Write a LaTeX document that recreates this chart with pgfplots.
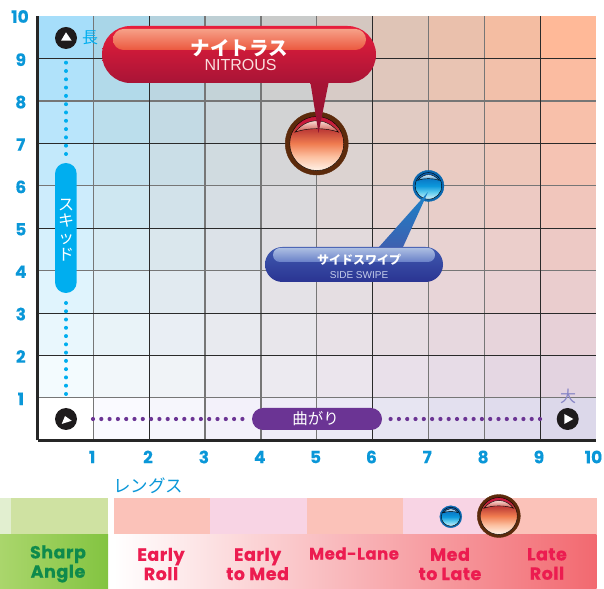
\documentclass[border=0pt]{standalone}
\usepackage{fontspec}
\usepackage{pgfplots}
\pgfplotsset{compat=1.18}
\setmainfont{Poppins}
\newfontfamily\panel{Poppins}[BoldFeatures={FakeBold=0.5,LetterSpace=3}]
\newfontfamily\tickf{Poppins}[BoldFeatures={FakeBold=0.3}]
\newfontfamily\cjk{Noto Sans CJK JP}
\newfontfamily\thin{Liberation Sans}
\definecolor{tickc}{HTML}{0A97D8}
\definecolor{cyanb}{HTML}{00AEEF}
\definecolor{purp}{HTML}{6B3494}
\definecolor{gridd}{HTML}{2A2A2A}
\definecolor{gridg}{HTML}{767676}
\definecolor{axisk}{HTML}{262626}
\definecolor{labr}{HTML}{EC1C50}
\definecolor{labg}{HTML}{0E8A4C}
\definecolor{bandr}{HTML}{FBC2B9}
\definecolor{bandp}{HTML}{F8D4E4}
\definecolor{ringr}{RGB}{92,42,11}
\definecolor{ringb}{RGB}{10,104,176}
\definecolor{gla}{RGB}{226,239,208}
\definecolor{glb}{RGB}{207,226,162}
\definecolor{gpa}{RGB}{170,214,108}
\definecolor{gpb}{RGB}{131,196,65}
\definecolor{rpb}{RGB}{242,105,112}
\definecolor{pa}{RGB}{168,20,52}
\definecolor{pb}{RGB}{140,16,48}
\definecolor{pia}{RGB}{232,30,60}
\definecolor{pib}{RGB}{216,27,56}
\definecolor{pic}{RGB}{168,20,54}
\definecolor{hia}{RGB}{246,160,136}
\definecolor{hib}{RGB}{236,88,62}
\definecolor{nit}{RGB}{250,222,222}
\definecolor{sa}{RGB}{26,130,200}
\definecolor{sb}{RGB}{62,96,176}
\definecolor{sc}{RGB}{64,90,176}
\definecolor{sd}{RGB}{42,52,146}
\definecolor{se}{RGB}{172,190,226}
\definecolor{sf}{RGB}{104,128,200}
\definecolor{sg}{RGB}{196,204,234}
\definecolor{blk}{RGB}{30,27,28}
\definecolor{dai}{RGB}{136,134,198}
\definecolor{r1}{HTML}{FFF2E8}
\definecolor{r2}{HTML}{FCC0A0}
\definecolor{r3}{HTML}{F07C50}
\definecolor{r4}{HTML}{C04038}
\definecolor{r5}{HTML}{C8183C}
\definecolor{rh1}{HTML}{FADCD4}
\definecolor{rh2}{HTML}{C85048}
\definecolor{b1}{HTML}{D4F1FB}
\definecolor{b2}{HTML}{60CCEE}
\definecolor{b3}{HTML}{0C98DC}
\definecolor{b4}{HTML}{0A7CC8}
\definecolor{b5}{HTML}{0C5FB0}
\definecolor{bh1}{HTML}{D4EAF6}
\definecolor{bh2}{HTML}{2A88CC}
\pgfdeclareverticalshading{ballrs}{100bp}{color(0bp)=(r1);color(25bp)=(r1);color(38bp)=(r2);color(50bp)=(r3);color(62bp)=(r4);color(70bp)=(r5);color(100bp)=(r5)}
\pgfdeclareverticalshading{ballbs}{100bp}{color(0bp)=(b1);color(25bp)=(b1);color(38bp)=(b2);color(50bp)=(b3);color(62bp)=(b4);color(70bp)=(b5);color(100bp)=(b5)}
\newcommand\crescent[2]{\shade[top color=#1,bottom color=#2] (-.69,.36) .. controls (-.5,.6) and (-.25,.72) .. (0,.72) .. controls (.25,.72) and (.5,.6) .. (.69,.36) .. controls (.45,.44) and (.25,.47) .. (0,.47) .. controls (-.25,.47) and (-.45,.44) .. (-.69,.36) -- cycle;}
\pgfdeclareplotmark{ballred}{%
  \begin{scope}[x=\pgfplotmarksize,y=\pgfplotmarksize]
    \fill[ringr] (0,0) circle (1);
    \shade[shading=ballrs] (0,0) circle (.857);
    \crescent{rh1}{rh2}
  \end{scope}}
\pgfdeclareplotmark{ballblue}{%
  \begin{scope}[x=\pgfplotmarksize,y=\pgfplotmarksize]
    \fill[ringb] (0,0) circle (1);
    \shade[shading=ballbs] (0,0) circle (.857);
    \crescent{bh1}{bh2}
  \end{scope}}
\begin{document}
\begin{tikzpicture}[px/.style={x=1pt,y=-1pt,shift={(-37.5pt,440.3pt)}}]
\begin{scope}[px]
\useasboundingbox (0,0) rectangle (604,588);
% background cells
\foreach \i in {1,...,9}{\foreach \j in {1,...,9}{
  \pgfmathsetmacro\s{(\i-1)/8}\pgfmathsetmacro\t{(\j-1)/8}
  \pgfmathsetmacro\R{((1-\s)*(1-\t)*242+\s*(1-\t)*227+(1-\s)*\t*169+\s*\t*255)/255}
  \pgfmathsetmacro\G{((1-\s)*(1-\t)*247+\s*(1-\t)*211+(1-\s)*\t*214+\s*\t*185)/255}
  \pgfmathsetmacro\B{((1-\s)*(1-\t)*250+\s*(1-\t)*224+(1-\s)*\t*232+\s*\t*152)/255}
  \definecolor{cc}{rgb}{\R,\G,\B}
  \fill[cc] ({37.5+\i*55.85},{440.3-\j*42.4}) rectangle ({37.5+(\i+1)*55.85},{440.3-(\j+1)*42.4});
}}
\foreach \j in {1,...,9}{
  \pgfmathsetmacro\t{(\j-1)/8}
  \pgfmathsetmacro\R{((1-\t)*243+\t*166)/255}
  \pgfmathsetmacro\G{((1-\t)*251+\t*222)/255}
  \pgfmathsetmacro\B{((1-\t)*254+\t*250)/255}
  \definecolor{cc}{rgb}{\R,\G,\B}
  \fill[cc] (37.5,{440.3-\j*42.4}) rectangle (93.35,{440.3-(\j+1)*42.4});
}
\foreach \i in {1,...,9}{
  \pgfmathsetmacro\s{(\i-1)/8}
  \pgfmathsetmacro\R{((1-\s)*250+\s*220)/255}
  \pgfmathsetmacro\G{((1-\s)*250+\s*216)/255}
  \pgfmathsetmacro\B{((1-\s)*255+\s*234)/255}
  \definecolor{cc}{rgb}{\R,\G,\B}
  \fill[cc] ({37.5+\i*55.85},440.3) rectangle ({37.5+(\i+1)*55.85},397.9);
}
% lower panel
\fill[gla] (0,498) rectangle (11,534);
\fill[glb] (11,498) rectangle (108,534);
\shade[left color=gpa,right color=gpb] (0,534) rectangle (108,588);
\fill[bandr] (114,498) rectangle (210,534);
\fill[bandp] (210,498) rectangle (307,534);
\fill[bandr] (307,498) rectangle (403,534);
\fill[bandp] (403,498) rectangle (500,534);
\fill[bandr] (500,498) rectangle (596.5,534);
\shade[left color=white,right color=rpb] (114,534) rectangle (596.5,588);
\end{scope}

\begin{axis}[
  at={(0pt,0pt)},anchor=south west,scale only axis,
  width=558.5pt,height=424pt,
  xmin=0,xmax=10,ymin=0,ymax=10,
  axis x line*=bottom,axis y line*=left,
  axis line style={-,color=axisk,line width=3.3pt},
  clip=false,
  major tick length=0pt,
  tick style={draw=none},
  xtick={1,3,4,5,7,8},extra x ticks={2,6,9},
  ytick={1,4,6,8},extra y ticks={2,3,5,7,9},
  grid=major,
  major grid style={color=gridg,line width=1.2pt},
  extra tick style={grid=major,major grid style={color=gridd,line width=.75pt}},
  /pgf/number format/assume math mode=true,
  xticklabel style={anchor=center,xshift=-1.2pt,yshift=-16.7pt,font=\tickf\bfseries\fontsize{17}{17}\selectfont,text=tickc,inner sep=0pt},
  yticklabel style={anchor=center,xshift=-16.7pt,yshift=-1pt,font=\tickf\bfseries\fontsize{17}{17}\selectfont,text=tickc,inner sep=0pt},
]
\addplot[only marks,mark=ballred,mark size=31.5pt] coordinates {(5.0,7.0)};
\addplot[only marks,mark=ballblue,mark size=15.5pt] coordinates {(7.0,6.0)};
\end{axis}

\begin{axis}[
  at={(0pt,-93.7pt)},anchor=south west,scale only axis,
  width=558.5pt,height=36pt,
  xmin=0,xmax=10,ymin=0,ymax=1,
  hide axis,clip=false,
]
\addplot[only marks,mark=ballblue,mark size=11pt] coordinates {(7.40,0.48)};
\addplot[only marks,mark=ballred,mark size=21.5pt] coordinates {(8.26,0.5)};
\end{axis}

\begin{scope}[px]
\node[font=\tickf\bfseries\fontsize{17}{17}\selectfont,text=tickc,inner sep=0pt] at (593.5,457) {10};
\node[font=\tickf\bfseries\fontsize{17}{17}\selectfont,text=tickc,inner sep=0pt] at (20,16.5) {10};
% Nitrous callout
\shade[top color=pa,bottom color=pb] (310.5,83) -- (328.5,83) -- (318.5,133) -- cycle;
\shade[top color=pia,middle color=pib,bottom color=pic,rounded corners=28.5pt] (102,26) rectangle (376,83);
\shade[top color=hia,bottom color=hib,rounded corners=10.5pt] (113,29) rectangle (366,50);
\node[font=\cjk\bfseries\fontsize{19.5}{20}\selectfont,text=white,inner sep=0pt] at (239.5,48.5) {ナイトラス};
\node[font=\thin\fontsize{16}{17}\selectfont,text=nit,inner sep=0pt] at (240.5,65) {NITROUS};
% Side swipe callout
\shade[top color=sa,bottom color=sb] (379,247) -- (403,247) -- (428,192) -- cycle;
\shade[top color=sc,bottom color=sd,rounded corners=17.5pt] (265,247) rectangle (443,282);
\shade[top color=se,bottom color=sf,rounded corners=7pt] (273,248) rectangle (435,262);
\node[font=\cjk\bfseries\fontsize{12}{13}\selectfont,text=white,inner sep=0pt] at (359,260) {サイドスワイプ};
\node[font=\thin\fontsize{10}{11}\selectfont,text=sg,inner sep=0pt] at (359,275) {SIDE SWIPE};
% vertical scale
\fill[blk] (66,38) circle (11);
\fill[white] (61,40.7) -- (71.7,40.7) -- (66,32.3) -- cycle;
\node[font=\cjk\fontsize{16}{17}\selectfont,text=cyanb,inner sep=0pt] at (90,37.5) {長};
\foreach \k in {0,...,11}{
  \fill[cyanb] (66,{62.7+\k*8.3}) circle (2);
  \fill[cyanb] (66,{303+\k*8.27}) circle (2);
}
\fill[cyanb,rounded corners=10.8pt] (55,163) rectangle (76.7,293);
\node[font=\cjk\fontsize{16}{16.8}\selectfont,text=white,align=center,inner sep=0pt] at (66,230) {ス\\キ\\ッ\\ド};
% horizontal scale
\fill[blk] (66,419) circle (11);
\fill[white] (65,416) -- (71.7,420.7) -- (61.7,424) -- cycle;
\foreach \k in {0,...,18}{
  \fill[purp] ({93+\k*8.3},419) circle (2.1);
  \fill[purp] ({390.6+\k*8.3},419) circle (2.1);
}
\fill[purp,rounded corners=11pt] (252,408) rectangle (382,430);
\node[font=\cjk\fontsize{15.5}{16}\selectfont,text=white,inner sep=0pt] at (315.5,419) {曲がり};
\fill[blk] (567.7,419) circle (11);
\fill[white] (564.3,414) -- (564.3,424) -- (573.3,419) -- cycle;
\node[font=\cjk\fontsize{16}{17}\selectfont,text=dai,inner sep=0pt] at (568,396) {大};
% lower panel text
\node[font=\cjk\fontsize{17.5}{18}\selectfont,text=tickc,inner sep=0pt] at (148,486) {レングス};
\begin{scope}[every node/.style={font=\panel\bfseries\fontsize{17.5}{19.3}\selectfont,align=center,inner sep=0pt}]
\node[text=labg] at (58,564) {Sharp\\Angle};
\node[text=labr] at (161,564) {Early\\Roll};
\node[text=labr] at (257.6,564) {Early\\to Med};
\node[text=labr,font=\panel\bfseries\fontsize{16.5}{19}\selectfont] at (354,553.5) {Med-Lane};
\node[text=labr] at (450,564) {Med\\to Late};
\node[text=labr] at (547,564) {Late\\Roll};
\end{scope}
\end{scope}
\end{tikzpicture}
\end{document}
